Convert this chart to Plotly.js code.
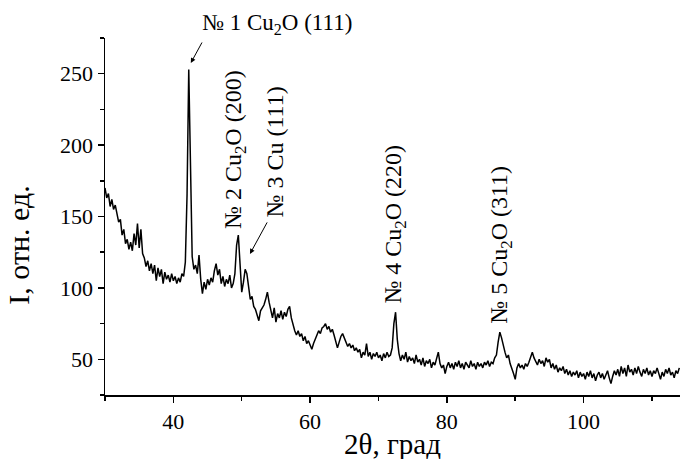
<!DOCTYPE html>
<html>
<head>
<meta charset="utf-8">
<script src="https://cdn.plot.ly/plotly-3.0.1.min.js"></script>
<style>html,body{margin:0;padding:0;background:#fff;}#chart{width:680px;height:459px;}</style>
</head>
<body>
<div id="chart"></div>
<script>
// Scan grid: 2θ from 30° to 114° in 0.25° steps
var scanStart = 30.0;
var scanStep = 0.25;

// Intensity (rel. units), 20 points per 5° row
var intensity30 = [170,163,166,157,162,155,158,152,146,148,137,141,131,134,127,132,126,138,130,145];
var intensity35 = [128,141,124,121,115,119,112,117,110,116,105,114,108,113,103,111,106,109,104,110];
var intensity40 = [105,108,103,107,104,110,108,118,165,253,175,122,113,116,110,123,106,96,104,99];
var intensity45 = [106,102,107,104,112,117,109,113,103,108,101,106,103,109,100,103,110,130,137,112];
var intensity50 = [97,104,113,110,99,92,94,87,85,80,77,84,86,88,92,97,90,85,79,86];
var intensity55 = [76,82,79,84,78,83,80,85,87,79,74,70,67,70,66,68,63,66,61,63];
var intensity60 = [60,57,61,64,67,70,68,72,73,75,71,73,69,71,67,63,58,62,66,68];
var intensity65 = [65,62,59,61,58,60,56,58,55,57,51,55,53,61,52,55,50,54,52,55];
var intensity70 = [51,53,49,54,51,55,52,53,58,75,83,64,54,49,53,50,55,48,52,49];
var intensity75 = [51,47,53,48,50,46,51,45,49,47,50,44,48,46,50,55,47,44,46,40];
var intensity80 = [45,48,44,47,43,48,45,49,44,47,43,48,46,44,49,45,47,43,48,45];
var intensity85 = [47,44,48,46,49,45,48,47,51,53,62,69,65,59,55,51,53,47,44,40];
var intensity90 = [36,44,47,44,46,43,47,45,48,51,55,51,49,46,50,47,49,45,51,48];
var intensity95 = [50,44,47,43,46,41,44,42,45,40,43,39,42,38,41,39,42,37,41,38];
var intensity100 = [40,36,41,38,42,37,40,35,39,41,37,40,36,39,42,37,33,38,42,39];
var intensity105 = [43,38,45,40,44,38,46,41,43,39,44,40,45,41,38,43,40,44,39,42];
var intensity110 = [38,42,40,44,39,36,41,38,43,40,44,39,41,37,42,40,44];

var intensity = [].concat(intensity30, intensity35, intensity40, intensity45, intensity50,
  intensity55, intensity60, intensity65, intensity70, intensity75, intensity80, intensity85,
  intensity90, intensity95, intensity100, intensity105, intensity110);
var twoTheta = intensity.map(function(_, i){ return +(scanStart + i*scanStep).toFixed(2); });

// Peak labels
var peakLabels = ['№ 1 Cu<sub>2</sub>O (111)', '№ 2 Cu<sub>2</sub>O (200)', '№ 3 Cu (111)', '№ 4 Cu<sub>2</sub>O (220)', '№ 5 Cu<sub>2</sub>O (311)'];

var FONT = 'Liberation Serif, Times New Roman, serif';

var trace = {
  x: twoTheta, y: intensity, type: 'scatter', mode: 'lines',
  line: {color: '#000', width: 1.5}, hoverinfo: 'skip'
};

var annFont = {family: FONT, size: 24, color: '#000'};
var annotations = [
  // #1 horizontal text with arrow
  {x: 0.165, y: 1.038, xref: 'paper', yref: 'paper', text: peakLabels[0], showarrow: false,
   xanchor: 'left', yanchor: 'middle', font: {family: FONT, size: 23, color: '#000'}},
  {x: 42.55, y: 257.5, xref: 'x', yref: 'y', text: '', showarrow: true, ax: 12, ay: -22,
   arrowhead: 2, arrowsize: 1, arrowwidth: 1, arrowcolor: '#000', standoff: 0},
  // #2
  {x: 49.1, y: 197, xref: 'x', yref: 'y', text: peakLabels[1], showarrow: false, textangle: -90,
   xanchor: 'center', yanchor: 'middle', font: annFont},
  // #3
  {x: 54.9, y: 195, xref: 'x', yref: 'y', text: peakLabels[2], showarrow: false, textangle: -90,
   xanchor: 'center', yanchor: 'middle', font: annFont},
  {x: 51.2, y: 123.8, xref: 'x', yref: 'y', text: '', showarrow: true, ax: 18, ay: -33,
   arrowhead: 2, arrowsize: 1, arrowwidth: 1, arrowcolor: '#000', standoff: 0},
  // #4
  {x: 72.45, y: 144.5, xref: 'x', yref: 'y', text: peakLabels[3], showarrow: false, textangle: -90,
   xanchor: 'center', yanchor: 'middle', font: annFont},
  // #5
  {x: 87.9, y: 130.2, xref: 'x', yref: 'y', text: peakLabels[4], showarrow: false, textangle: -90,
   xanchor: 'center', yanchor: 'middle', font: annFont},
  // y-axis title
  {x: -0.152, y: 0.42, xref: 'paper', yref: 'paper', text: 'I, отн. ед.', showarrow: false, textangle: -90,
   xanchor: 'center', yanchor: 'middle', font: {family: FONT, size: 30, color: '#000'}},
  // x-axis title
  {x: 0.5, y: -0.138, xref: 'paper', yref: 'paper', text: '2θ, град', showarrow: false,
   xanchor: 'center', yanchor: 'middle', font: {family: FONT, size: 29, color: '#000'}}
];

var layout = {
  width: 680, height: 459,
  margin: {l: 105, r: 0, t: 37.6, b: 64.3, pad: 0},
  paper_bgcolor: '#fff', plot_bgcolor: '#fff',
  showlegend: false,
  font: {family: FONT, color: '#000', size: 22},
  xaxis: {
    range: [30, 114.1], showgrid: false, zeroline: false,
    showline: true, linecolor: '#000', linewidth: 1.5,
    ticks: 'outside', ticklen: 6, tickwidth: 1.5, tickcolor: '#000',
    tick0: 0, dtick: 20,
    minor: {ticks: 'outside', ticklen: 4, tickwidth: 1.5, tickcolor: '#000', dtick: 10, tick0: 0, showgrid: false},
    tickfont: {family: FONT, size: 22, color: '#000'}
  },
  yaxis: {
    range: [25, 275], showgrid: false, zeroline: false,
    showline: true, linecolor: '#000', linewidth: 1.5,
    ticks: 'outside', ticklen: 6, tickwidth: 1.5, tickcolor: '#000',
    tick0: 0, dtick: 50,
    minor: {ticks: 'outside', ticklen: 4, tickwidth: 1.5, tickcolor: '#000', dtick: 25, tick0: 0, showgrid: false},
    tickfont: {family: FONT, size: 22, color: '#000'}
  },
  annotations: annotations
};

Plotly.newPlot('chart', [trace], layout, {staticPlot: true, displayModeBar: false});
</script>
</body>
</html>
